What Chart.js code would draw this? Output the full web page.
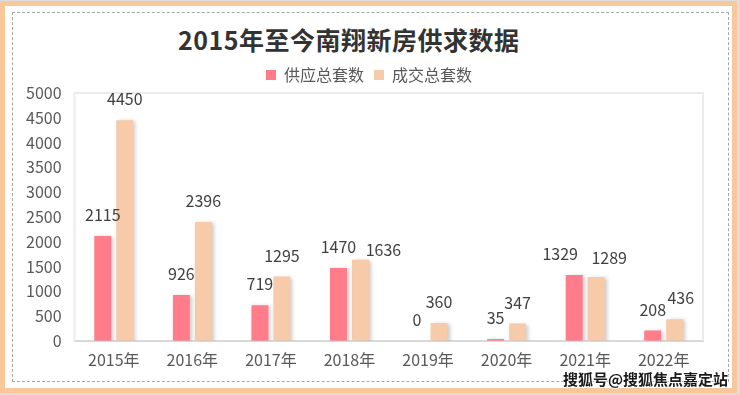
<!DOCTYPE html>
<html>
<head>
<meta charset="utf-8">
<script src="https://cdn.jsdelivr.net/npm/chart.js@4/dist/chart.umd.min.js"></script>
<style>
  html, body { margin: 0; padding: 0; }
  body { width: 740px; height: 395px; background: #dedede; position: relative; overflow: hidden; font-family: "Noto Sans CJK SC", sans-serif; }
  #frame { position: absolute; left: 0; top: 1px; width: 737px; height: 392px; box-sizing: border-box; border: 5px solid #f9c89a; background: #fff; }
  #dash { position: absolute; left: 12px; top: 12px; width: 717px; height: 370px; box-sizing: border-box; border: 1px dashed #a6a6a6; }
  #title { position: absolute; left: 178px; top: 23px; font-size: 25px; line-height: 32px; letter-spacing: 0.5px; font-weight: bold; color: #333; white-space: nowrap; }
  #wrap { position: absolute; left: 0; top: 0; width: 740px; height: 395px; }
  #mark { position: absolute; left: 563px; top: 369px; font-size: 15px; line-height: 20px; font-weight: bold; color: #1a1a1a; white-space: nowrap;
          text-shadow: 1px 0 0 #fff, -1px 0 0 #fff, 0 1px 0 #fff, 0 -1px 0 #fff; }
</style>
</head>
<body>
<div id="frame"></div>
<div id="dash"></div>
<div id="title">2015年至今南翔新房供求数据</div>
<div id="wrap"><canvas id="chart"></canvas></div>
<div id="mark">搜狐号@搜狐焦点嘉定站</div>
<script>
const years = ["2015年", "2016年", "2017年", "2018年", "2019年", "2020年", "2021年", "2022年"];
const supply = [2115, 926, 719, 1470, 0, 35, 1329, 208];
const sales = [4450, 2396, 1295, 1636, 360, 347, 1289, 436];
const seriesNames = ["供应总套数", "成交总套数"];
const yTicks = [0, 500, 1000, 1500, 2000, 2500, 3000, 3500, 4000, 4500, 5000];

// label nudges (px) where the original moved a label off its bar
const labelNudge = [
    { 6: [-14, 0] },
    { 3: [23, 11], 6: [13, 2], 7: [6, 0] }
];

const fontFamily = '"Noto Sans CJK SC", "Noto Sans", sans-serif';

// plot frame behind the bars
const framePlugin = {
    id: "frame",
    afterLayout(chart) {
        // legend sits centred on the whole card, not on the plot
        chart.legend.left += 11;
        chart.legend.right += 11;
    },
    beforeDatasetsDraw(chart) {
        const { ctx, chartArea: a } = chart;
        ctx.save();
        ctx.strokeStyle = "#ebebeb";
        ctx.lineWidth = 2;
        ctx.beginPath();
        ctx.moveTo(a.left, a.bottom);
        ctx.lineTo(a.left, a.top);
        ctx.lineTo(a.right, a.top);
        ctx.lineTo(a.right, a.bottom);
        ctx.stroke();
        ctx.restore();
    }
};

// soft shadow under each bar
const shadowPlugin = {
    id: "barShadow",
    beforeDatasetsDraw(chart) {
        const ctx = chart.ctx;
        ctx.save();
        ctx.shadowColor = "rgba(0,0,0,0.22)";
        ctx.shadowBlur = 4;
        ctx.shadowOffsetX = 2;
        ctx.shadowOffsetY = 1;
    },
    afterDatasetsDraw(chart) {
        chart.ctx.restore();
    }
};

// value labels above the bars
const valueLabels = {
    id: "valueLabels",
    afterDatasetsDraw(chart) {
        const ctx = chart.ctx;
        ctx.save();
        ctx.font = "16px " + fontFamily;
        ctx.fillStyle = "#404040";
        ctx.textAlign = "center";
        ctx.textBaseline = "middle";
        chart.data.datasets.forEach((ds, i) => {
            const meta = chart.getDatasetMeta(i);
            meta.data.forEach((bar, j) => {
                const n = labelNudge[i][j] || [0, 0];
                ctx.fillText(String(ds.data[j]), bar.x + n[0], bar.y - 21 + n[1]);
            });
        });
        ctx.restore();
    }
};

new Chart(document.getElementById("chart"), {
    type: "bar",
    data: {
        labels: years,
        datasets: [
            { label: seriesNames[0], data: supply, backgroundColor: "#ff7c8a" },
            { label: seriesNames[1], data: sales, backgroundColor: "#f7caa9" }
        ]
    },
    options: {
        responsive: true,
        maintainAspectRatio: false,
        animation: false,
        layout: { padding: { top: 57, left: 13, right: 37, bottom: 15 } },
        datasets: { bar: { categoryPercentage: 0.56, barPercentage: 0.77 } },
        plugins: {
            title: { display: false },
            tooltip: { enabled: false },
            legend: {
                position: "top",
                labels: {
                    boxWidth: 10,
                    boxHeight: 10,
                    padding: 10,
                    color: "#595959",
                    font: { family: fontFamily, size: 16 }
                }
            }
        },
        scales: {
            x: {
                grid: { display: false, drawTicks: false },
                border: { display: true, color: "#d9d9d9", width: 2 },
                ticks: { color: "#595959", padding: 10, font: { family: fontFamily, size: 16 } }
            },
            y: {
                min: 0,
                max: 5000,
                afterBuildTicks(scale) {
                    scale.ticks = yTicks.map(v => ({ value: v }));
                },
                grid: { display: false, drawTicks: false },
                border: { display: false },
                ticks: {
                    color: "#595959",
                    padding: 13,
                    font: { family: fontFamily, size: 16 },
                    callback: v => String(v)
                }
            }
        }
    },
    plugins: [framePlugin, shadowPlugin, valueLabels]
});
</script>
</body>
</html>
